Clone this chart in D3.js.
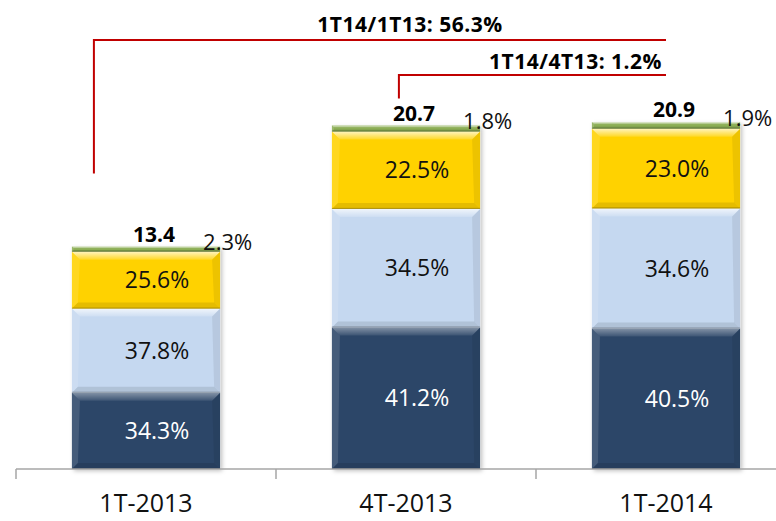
<!DOCTYPE html>
<html>
<head>
<meta charset="utf-8">
<script src="https://cdn.jsdelivr.net/npm/d3@7"></script>
<style>
	body{margin:0;background:#fff}
	svg{display:block}
	text{font-family:"Open Sans","Noto Sans",sans-serif}
</style>
</head>
<body>
<svg id="chart" width="776" height="521"></svg>
<script>
// data
const categories = ["1T-2013", "4T-2013", "1T-2014"]
const totals = [13.4, 20.7, 20.9]
const shareNavy = [34.3, 41.2, 40.5]
const shareLight = [37.8, 34.5, 34.6]
const shareYellow = [25.6, 22.5, 23.0]
const shareGreen = [2.3, 1.8, 1.9]
const compareFrom = ["1T-2013", "4T-2013"]
const compareLabels = ["1T14/1T13: 56.3%", "1T14/4T13: 1.2%"]

const shares = [shareNavy, shareLight, shareYellow, shareGreen]
const colors = ["#2c4668", "#c5d8f0", "#ffd200", "#8cae55"]
const textColors = ["#fff", "#111", "#111", "#111"]

const svg = d3.select("#chart")

const x = d3.scaleBand()
	.domain(categories)
	.range([16, 796])
	.paddingInner(0.43)
	.paddingOuter(0.215)
const y = d3.scaleLinear()
	.domain([0, 25])
	.range([469, 54])

const defs = svg.append("defs")
defs.append("filter")
	.attr("id", "shadow")
	.attr("x", "-10%").attr("y", "-10%")
	.attr("width", "130%").attr("height", "130%")
	.append("feDropShadow")
	.attr("dx", 2).attr("dy", 2)
	.attr("stdDeviation", 2)
	.attr("flood-color", "#000")
	.attr("flood-opacity", 0.25)
let hi = defs.append("linearGradient")
	.attr("id", "hi")
	.attr("x1", 0).attr("y1", 0).attr("x2", 0).attr("y2", 1)
hi.append("stop").attr("offset", 0).attr("stop-color", "#fff").attr("stop-opacity", 0.75)
hi.append("stop").attr("offset", 1).attr("stop-color", "#fff").attr("stop-opacity", 0.15)

// stacked segments
let segs = []
categories.forEach((c, i)=>{
	let acc = 0
	shares.forEach((s, k)=>{
		let v = totals[i]*s[i]/100
		segs.push({cat: c, i: i, k: k, share: s[i], v0: acc, v1: acc+v})
		acc += v
	})
})

const bars = svg.append("g")
categories.forEach((c, i)=>{
	bars.append("rect")
		.attr("x", x(c))
		.attr("y", y(totals[i]))
		.attr("width", x.bandwidth())
		.attr("height", y(0)-y(totals[i]))
		.attr("fill", "#fff")
		.attr("filter", "url(#shadow)")
})

segs.forEach(d=>{
	let x0 = x(d.cat), x1 = x0+x.bandwidth()
	let t = y(d.v1), b = y(d.v0)
	let bv = Math.min(8, (b-t)/3)
	let bb = Math.min(6, (b-t)/3)
	let g = bars.append("g")
	g.append("rect")
		.attr("x", x0).attr("y", t)
		.attr("width", x1-x0).attr("height", b-t)
		.attr("fill", colors[d.k])
	let pts = [
		[[x0,t],[x1,t],[x1-bv,t+bv],[x0+bv,t+bv]],
		[[x0,b],[x1,b],[x1-bb,b-bb],[x0+bb,b-bb]],
		[[x0,t],[x0+bv,t+bv],[x0+bb,b-bb],[x0,b]],
		[[x1,t],[x1-bv,t+bv],[x1-bb,b-bb],[x1,b]]
	]
	let fills = ["url(#hi)", "#000", "#fff", "#000"]
	let ops = [d.k===0 ? 0.55 : 1, 0.1, 0.12, 0.07]
	pts.forEach((p, j)=>{
		g.append("polygon")
			.attr("points", p.map(q=>q.join(",")).join(" "))
			.attr("fill", fills[j])
			.attr("opacity", ops[j])
	})
	g.append("line")
		.attr("x1", x0).attr("x2", x1)
		.attr("y1", b-0.5).attr("y2", b-0.5)
		.attr("stroke", "#000")
		.attr("stroke-opacity", 0.25)
})

// labels inside the segments
segs.filter(d=>d.k<3).forEach(d=>{
	svg.append("text")
		.attr("x", x(d.cat)+x.bandwidth()/2+11)
		.attr("y", (y(d.v0)+y(d.v1))/2)
		.attr("dy", "0.35em")
		.attr("text-anchor", "middle")
		.attr("font-size", 23)
		.attr("fill", textColors[d.k])
		.text(d.share.toFixed(1)+"%")
})
// small top share, outside on the right
segs.filter(d=>d.k===3).forEach(d=>{
	svg.append("text")
		.attr("x", x(d.cat)+x.bandwidth()-17)
		.attr("y", y(d.v1)-4)
		.attr("dy", "0.35em")
		.attr("font-size", 22)
		.attr("fill", "#111")
		.text(d.share.toFixed(1)+"%")
})
// totals
categories.forEach((c, i)=>{
	svg.append("text")
		.attr("x", x(c)+x.bandwidth()/2+8)
		.attr("y", y(totals[i])-12)
		.attr("dy", "0.35em")
		.attr("text-anchor", "middle")
		.attr("font-size", 21)
		.attr("font-weight", "bold")
		.attr("fill", "#000")
		.text(totals[i].toFixed(1))
})

// axis
const axis = svg.append("g").attr("stroke", "#a6a6a6").attr("stroke-width", 1.5)
axis.append("line")
	.attr("x1", x.range()[0]).attr("x2", x.range()[1])
	.attr("y1", y(0)).attr("y2", y(0))
const gap = (x.step()-x.bandwidth())/2
categories.forEach(c=>{
	axis.append("line")
		.attr("x1", x(c)-gap).attr("x2", x(c)-gap)
		.attr("y1", y(0)).attr("y2", y(0)+10)
})
categories.forEach(c=>{
	svg.append("text")
		.attr("x", x(c)+x.bandwidth()/2)
		.attr("y", 503)
		.attr("dy", "0.35em")
		.attr("text-anchor", "middle")
		.attr("font-size", 25)
		.attr("fill", "#111")
		.text(c)
})

// comparison brackets
const last = categories[categories.length-1]
const endX = x(last)+x.bandwidth()/2
const levels = [40, 75]
const startX = [x(compareFrom[0])+22, x(compareFrom[1])+67]
const dropTo = [y(totals[0])-73, y(totals[1])-27]
compareFrom.forEach((c, j)=>{
	svg.append("path")
		.attr("d", `M${startX[j]},${dropTo[j]}V${levels[j]}H${endX}`)
		.attr("fill", "none")
		.attr("stroke", "#c00000")
		.attr("stroke-width", 2)
})
svg.append("text")
	.attr("x", 410).attr("y", levels[0]-15)
	.attr("dy", "0.35em")
	.attr("text-anchor", "middle")
	.attr("font-size", 21)
	.attr("font-weight", "bold")
	.attr("letter-spacing", 0.5)
	.text(compareLabels[0])
svg.append("text")
	.attr("x", endX-4).attr("y", levels[1]-13)
	.attr("dy", "0.35em")
	.attr("text-anchor", "end")
	.attr("font-size", 21)
	.attr("font-weight", "bold")
	.attr("letter-spacing", 0.5)
	.text(compareLabels[1])
</script>
</body>
</html>
